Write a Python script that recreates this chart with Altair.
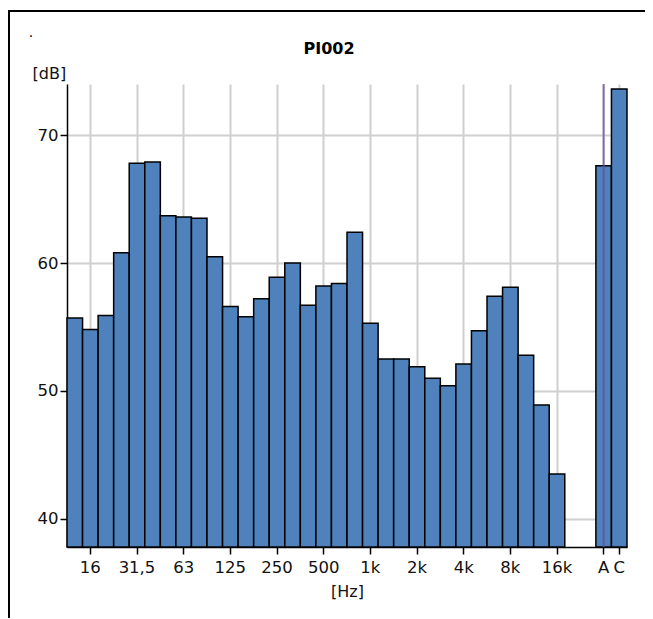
import altair as alt
import pandas as pd

# ---- data ----
bands = ["12,5", "16", "20", "25", "31,5", "40", "50", "63", "80", "100",
         "125", "160", "200", "250", "315", "400", "500", "630", "800", "1k",
         "1,25k", "1,6k", "2k", "2,5k", "3,15k", "4k", "5k", "6,3k", "8k",
         "10k", "12,5k", "16k"]
band_levels = [55.7, 54.8, 55.9, 60.8, 67.8, 67.9, 63.7, 63.6, 63.5, 60.5,
               56.6, 55.8, 57.2, 58.9, 60.0, 56.7, 58.2, 58.4, 62.4, 55.3,
               52.5, 52.5, 51.9, 51.0, 50.4, 52.1, 54.7, 57.4, 58.1, 52.8,
               48.9, 43.5]
overall = ["A", "C"]
overall_levels = [67.6, 73.6]
gap_slots = ["gap1", "gap2"]
x_tick_labels = ["16", "31,5", "63", "125", "250", "500", "1k", "2k", "4k",
                 "8k", "16k", "A", "C"]
y_ticks = [40, 50, 60, 70]
y_domain = [37.8, 74.0]
title_text = "PI002"
corner_text = "."
y_title = "[dB]"
x_title = "[Hz]"

FONT = "DejaVu Sans"
W, H = 560, 463
LBL = 16.5

x_domain = bands + gap_slots + overall
df = pd.DataFrame({"band": bands + overall, "level": band_levels + overall_levels})

xscale = alt.Scale(domain=x_domain, paddingInner=0, paddingOuter=0)
yscale = alt.Scale(domain=y_domain, nice=False, zero=False)

common = dict(labelFontSize=LBL, tickSize=7, tickWidth=1.5, tickColor="#000",
              domainColor="#000", domainWidth=1.5, grid=True,
              gridColor="#cfcfcf", gridWidth=2, labelColor="#111",
              titleColor="#111", titleFontWeight="normal", titleFontSize=16)

bars = alt.Chart(df).mark_bar(
    fill="#4f81bd", stroke="#000000", strokeWidth=1.5
).encode(
    x=alt.X("band:N", scale=xscale, sort=x_domain,
            axis=alt.Axis(values=x_tick_labels, labelAngle=0, title=x_title,
                          titleY=44, titleBaseline="middle", labelPadding=5,
                          bandPosition=0.5, **common)),
    y=alt.Y("level:Q", scale=yscale,
            axis=alt.Axis(values=y_ticks, title=y_title, titleAngle=0,
                          titleAlign="left", titleBaseline="middle",
                          titleX=-35, titleY=-11, labelPadding=2, **common)),
    y2=alt.datum(y_domain[0]),
)

marker = alt.Chart(pd.DataFrame({"band": overall[:1]})).mark_rule(
    color="#6b4a9b", strokeWidth=2, opacity=0.75
).encode(x=alt.X("band:N", scale=xscale), y=alt.value(0), y2=alt.value(H))

one = pd.DataFrame({"k": [0]})
frame_top = alt.Chart(one).mark_rect(color="#000").encode(
    x=alt.value(-60), x2=alt.value(578), y=alt.value(-74), y2=alt.value(-72))
frame_left = alt.Chart(one).mark_rect(color="#000").encode(
    x=alt.value(-59), x2=alt.value(-57), y=alt.value(-74), y2=alt.value(540))
# white patch above the C bar, under nothing of the reference
cover = alt.Chart(one).mark_rect(color="#ffffff").encode(
    x=alt.value(566), x2=alt.value(580), y=alt.value(-71.5), y2=alt.value(-2))

title = alt.Chart(one).mark_text(
    font=FONT, fontSize=16, fontWeight="bold", color="#000",
    align="center", baseline="middle"
).encode(x=alt.value(262), y=alt.value(-35), text=alt.value(title_text))

dot = alt.Chart(one).mark_text(
    font=FONT, fontSize=14, color="#000", align="center", baseline="bottom"
).encode(x=alt.value(-36), y=alt.value(-44), text=alt.value(corner_text))

chart = alt.layer(bars, marker, frame_top, frame_left, cover, title, dot).properties(
    width=W, height=H,
    autosize=alt.AutoSizeParams(type="none"),
    padding={"left": 59, "top": 76, "right": 18, "bottom": 71},
).configure(font=FONT).configure_view(stroke=None)

chart.save("out.html", embed_options={"renderer": "svg", "actions": False})
